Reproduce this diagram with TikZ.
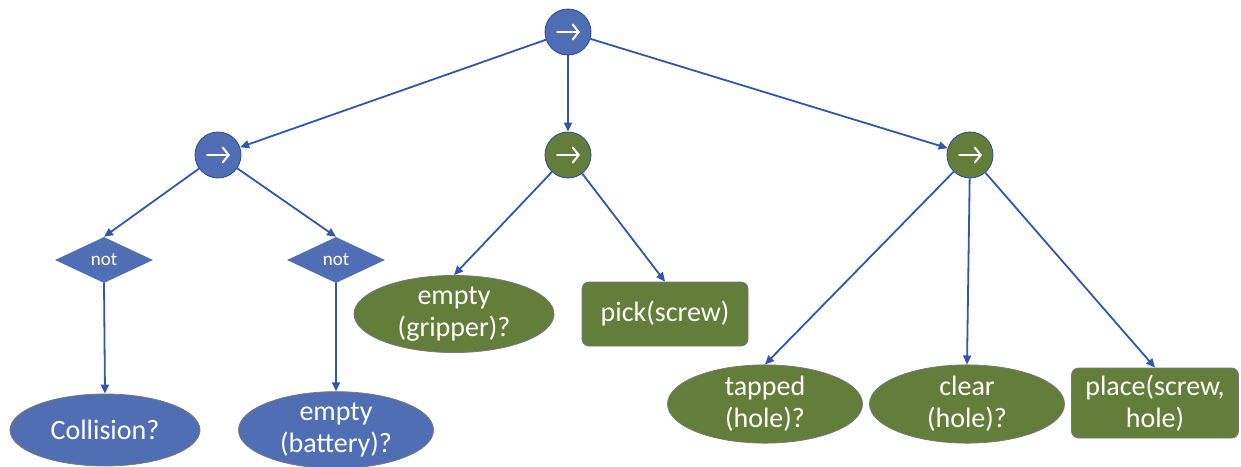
\documentclass[tikz,border=0pt]{standalone}
\usepackage{fontspec}
\setmainfont{Carlito}
\usetikzlibrary{shapes.geometric,arrows.meta}
\definecolor{bt}{RGB}{80,110,180}
\definecolor{gt}{RGB}{98,126,58}
\definecolor{ln}{RGB}{50,86,168}
\definecolor{bd}{RGB}{120,120,120}
\tikzset{
  seqnode/.style={circle,draw=ln!85!black,line width=0.8pt,minimum size=46pt,inner sep=0pt,
    path picture={\draw[white,line width=2pt,line cap=round,-{Straight Barb[length=6pt,width=15pt,line cap=round]}]
      ([xshift=-11pt]path picture bounding box.center) -- ([xshift=12pt]path picture bounding box.center);}},
  bseq/.style={seqnode,fill=bt},
  gseq/.style={seqnode,fill=gt},
  notnode/.style={diamond,fill=bt,draw=none,aspect=2.1,minimum width=98pt,minimum height=46pt,inner sep=0pt,
    text=white,font=\fontsize{19}{21}\selectfont},
  cond/.style={ellipse,draw=bd,line width=0.8pt,inner sep=0pt,text=white,align=center,
    font=\fontsize{28}{32}\selectfont},
  bcond/.style={cond,fill=bt},
  gcond/.style={cond,fill=gt},
  act/.style={rectangle,rounded corners=7pt,draw=bd,line width=0.8pt,fill=gt,inner sep=0pt,text=white,
    align=center,font=\fontsize{28}{32}\selectfont},
  edge/.style={draw=ln,line width=1.8pt,-{Triangle[length=9pt,width=8pt]}}
}
\begin{document}
\begin{tikzpicture}[x=1pt,y=-1pt]
\useasboundingbox (0,0) rectangle (1241,466);
\node[bseq] (root) at (568,32) {};
\node[bseq] (s1) at (218,155) {};
\node[gseq] (s2) at (568,155) {};
\node[gseq] (s3) at (970,155) {};
\node[notnode] (n1) at (104,260) {not};
\node[notnode] (n2) at (336,260) {not};
\node[bcond,minimum width=190pt,minimum height=72pt] (c1) at (105,430) {Collision?};
\node[bcond,minimum width=195pt,minimum height=74pt] (c2) at (336,430) {empty\\(battery)?};
\node[gcond,minimum width=200pt,minimum height=64pt] (c3) at (454,314) {empty\\(gripper)?};
\node[act,minimum width=166pt,minimum height=64pt] (a1) at (665,314) {pick(screw)};
\node[gcond,minimum width=195pt,minimum height=78pt] (c4) at (765,404) {tapped\\(hole)?};
\node[gcond,minimum width=195pt,minimum height=78pt] (c5) at (967,404) {clear\\(hole)?};
\node[act,minimum width=167pt,minimum height=70pt] (a2) at (1155,403) {place(screw,\\hole)};
\draw[edge] (root) -- (s1);
\draw[edge] (root) -- (s2);
\draw[edge] (root) -- (s3);
\draw[edge] (s1) -- (n1.north);
\draw[edge] (s1) -- (n2.north);
\draw[edge] (n1.south) -- (c1.north);
\draw[edge] (n2.south) -- (c2.north);
\draw[edge] (s2) -- (c3.north);
\draw[edge] (s2) -- (a1.north);
\draw[edge] (s3) -- (c4.north);
\draw[edge] (s3) -- (c5.north);
\draw[edge] (s3) -- (a2.north);
\end{tikzpicture}
\end{document}
